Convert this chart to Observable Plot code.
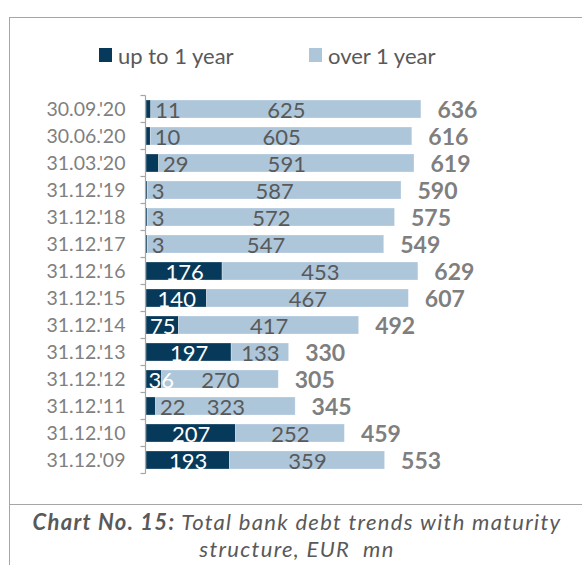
<!DOCTYPE html>
<html>
<head>
<meta charset="utf-8">
<script src="https://cdn.jsdelivr.net/npm/d3@7"></script>
<script src="https://cdn.jsdelivr.net/npm/@observablehq/plot@0.6"></script>
<style>
  html, body { margin: 0; padding: 0; background: #fff; }
  body { width: 582px; height: 565px; position: relative; overflow: hidden; font-family: Lato, sans-serif; }
  #frame { position: absolute; left: 9px; top: 17px; width: 700px; height: 700px; border-left: 1px solid #a6a6a6; border-top: 1px solid #a6a6a6; }
  #sep { position: absolute; left: 9px; top: 504px; width: 600px; height: 0; border-top: 1px solid #a6a6a6; }
  #legend { position: absolute; top: 40px; left: 0; width: 582px; height: 30px; color: #595959; font-size: 22px; }
  .li { position: absolute; top: 0; display: flex; align-items: center; height: 30px; white-space: nowrap; }
  .sw { width: 13px; height: 14px; margin-right: 6px; }
  #chart { position: absolute; left: 0; top: 80px; }
  #cap { position: absolute; left: 297px; top: 509px; transform: translateX(-50%); text-align: center; color: #595959; font-style: italic; font-size: 22px; line-height: 26.6px; letter-spacing: 1.3px; white-space: nowrap; }
</style>
</head>
<body>
<div id="frame"></div>
<div id="sep"></div>
<div id="legend"></div>
<div id="chart"></div>
<div id="cap"><b>Chart No. 15:</b> Total bank debt trends with maturity<br>structure, EUR&nbsp; mn</div>
<script>
const dates = ["30.09.'20","30.06.'20","31.03.'20","31.12.'19","31.12.'18","31.12.'17","31.12.'16","31.12.'15","31.12.'14","31.12.'13","31.12.'12","31.12.'11","31.12.'10","31.12.'09"];
const upTo1 = [11,10,29,3,3,3,176,140,75,197,36,22,207,193];
const over1 = [625,605,591,587,572,547,453,467,417,133,270,323,252,359];
const totals = [636,616,619,590,575,549,629,607,492,330,305,345,459,553];
const seriesNames = ["up to 1 year","over 1 year"];
const seriesColors = ["#073a5a","#adc6da"];

// legend
const legend = document.getElementById("legend");
const legendLeft = [99, 309];
seriesNames.forEach((s, i) => {
  const el = document.createElement("div");
  el.className = "li";
  el.style.left = legendLeft[i] + "px";
  el.innerHTML = `<span class="sw" style="background:${seriesColors[i]}"></span><span>${s}</span>`;
  legend.appendChild(el);
});

const rows = [];
dates.forEach((d, i) => {
  rows.push({date: d, series: seriesNames[0], value: upTo1[i]});
  rows.push({date: d, series: seriesNames[1], value: over1[i]});
});
const idx = dates.map((d, i) => i);
const tiny = idx.filter(i => upTo1[i] < 30);
const mid = idx.filter(i => upTo1[i] >= 30 && upTo1[i] < 60);
const big = idx.filter(i => upTo1[i] >= 60);

function axisLine(index, scales) {
  const y = scales.y, x = scales.x;
  const dom = y.domain();
  const step = y.step(), bw = y.bandwidth();
  const x0 = Math.round(x(0)) - 0.5;
  const top = y(dom[0]) + bw / 2 - step / 2;
  const g = d3.create("svg:g").attr("stroke", "#a6a6a6").attr("stroke-width", 1.2).attr("fill", "none");
  g.append("line").attr("x1", x0).attr("x2", x0).attr("y1", top).attr("y2", top + step * dom.length);
  for (let i = 0; i <= dom.length; i++) {
    const yy = top + i * step;
    g.append("line").attr("x1", x0 - 5).attr("x2", x0).attr("y1", yy).attr("y2", yy);
  }
  return g.node();
}

const chart = Plot.plot({
  width: 582,
  height: 410,
  marginLeft: 146,
  marginRight: 47,
  marginTop: 10,
  marginBottom: 11,
  style: {fontFamily: "Lato, sans-serif", fontSize: "19.5px", color: "#7f7f7f", background: "transparent"},
  x: {domain: [0, 900], axis: null},
  y: {domain: dates, padding: 0.337, tickSize: 0, tickPadding: 21, label: null},
  color: {domain: seriesNames, range: seriesColors},
  marks: [
    Plot.barX(rows, {x: "value", y: "date", fill: "series", stroke: "#ffffff", strokeOpacity: 0.35, strokeWidth: 0.8}),
    axisLine,
    Plot.text(big, {x: i => upTo1[i] / 2, y: i => dates[i], text: i => String(upTo1[i]), fill: "#ffffff", fontSize: 22, textAnchor: "middle", dy: 1}),
    Plot.text(mid, {x: 0, y: i => dates[i], text: i => String(upTo1[i]), fill: "#ffffff", fontSize: 22, textAnchor: "start", dx: 2, dy: 1}),
    Plot.text(tiny, {x: i => upTo1[i], y: i => dates[i], text: i => String(upTo1[i]), fill: "#595959", fontSize: 22, textAnchor: "start", dx: 4, dy: 1}),
    Plot.text(idx, {x: i => upTo1[i] + over1[i] / 2, y: i => dates[i], text: i => String(over1[i]), fill: "#595959", fontSize: 22, textAnchor: "middle", dy: 1}),
    Plot.text(idx, {x: i => upTo1[i] + over1[i], y: i => dates[i], text: i => String(totals[i]), fill: "#7f7f7f", fontSize: 23, fontWeight: "bold", textAnchor: "start", dx: 16, dy: 1})
  ]
});
document.getElementById("chart").appendChild(chart);
</script>
</body>
</html>
